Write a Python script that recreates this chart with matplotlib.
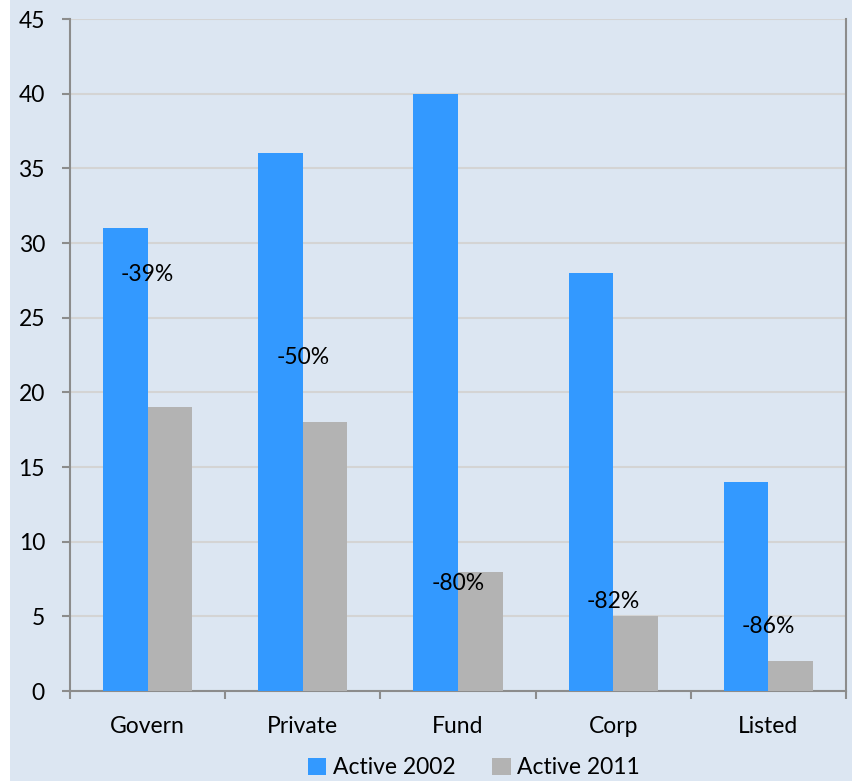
import numpy as np
import matplotlib
matplotlib.use("Agg")
import matplotlib.pyplot as plt
from matplotlib.patches import Rectangle

# data
categories = ["Govern", "Private", "Fund", "Corp", "Listed"]
active_2002 = [31, 36, 40, 28, 14]
active_2011 = [19, 18, 8, 5, 2]
change_labels = ["-39%", "-50%", "-80%", "-82%", "-86%"]

# where the change labels sit (layout, not data)
label_y = [27.9, 22.3, 7.2, 6.0, 4.3]

plt.rcParams['font.family'] = ['Lato', 'DejaVu Sans']
fs = 16.5

bg = '#DCE6F2'
blue = '#3399FF'
grey = '#B3B3B3'
axis_col = '#8C8C8C'

fig = plt.figure(figsize=(8.52, 7.81), dpi=100, facecolor='white')
fig.patches.append(Rectangle((10 / 852, 0), 1, 1, transform=fig.transFigure,
                             facecolor=bg, edgecolor='none', zorder=-10))

ax = fig.add_axes([70 / 852, 90 / 781, 776 / 852, 672 / 781])
ax.set_facecolor(bg)

x = np.arange(len(categories))
w = 0.287
b1 = ax.bar(x - w / 2, active_2002, w, color=blue, label="Active 2002", zorder=3)
b2 = ax.bar(x + w / 2, active_2011, w, color=grey, label="Active 2011", zorder=3)

for xi, lab, ly in zip(x, change_labels, label_y):
    ax.text(xi, ly, lab, ha='center', va='center', fontsize=fs, zorder=4)

ax.set_xlim(-0.5, len(categories) - 0.5)
ax.set_ylim(0, 45)
ax.set_yticks(range(0, 46, 5))
ax.yaxis.grid(True, color='#D4D4D4', linewidth=1.5, zorder=0)
ax.set_axisbelow(True)

ax.set_xticks(x)
ax.set_xticklabels(categories, fontsize=fs)
ax.set_xticks(np.arange(-0.5, len(categories), 1), minor=True)
ax.tick_params(axis='x', which='major', length=0, pad=18)
ax.tick_params(axis='x', which='minor', length=6, width=1.5, color=axis_col)
ax.tick_params(axis='y', length=6, width=1.5, color=axis_col, labelsize=fs, pad=12)

for s in ['left', 'bottom', 'right']:
    ax.spines[s].set_color(axis_col)
    ax.spines[s].set_linewidth(1.5)
ax.spines['top'].set_visible(False)

leg = fig.legend(handles=[b1, b2], loc='center', bbox_to_anchor=(474 / 852, 13 / 781),
                 ncol=2, frameon=False, fontsize=fs, handlelength=0.8, handleheight=0.8,
                 handletextpad=0.3, columnspacing=1.6)

fig.savefig("out.png", dpi=100, facecolor=fig.get_facecolor())
